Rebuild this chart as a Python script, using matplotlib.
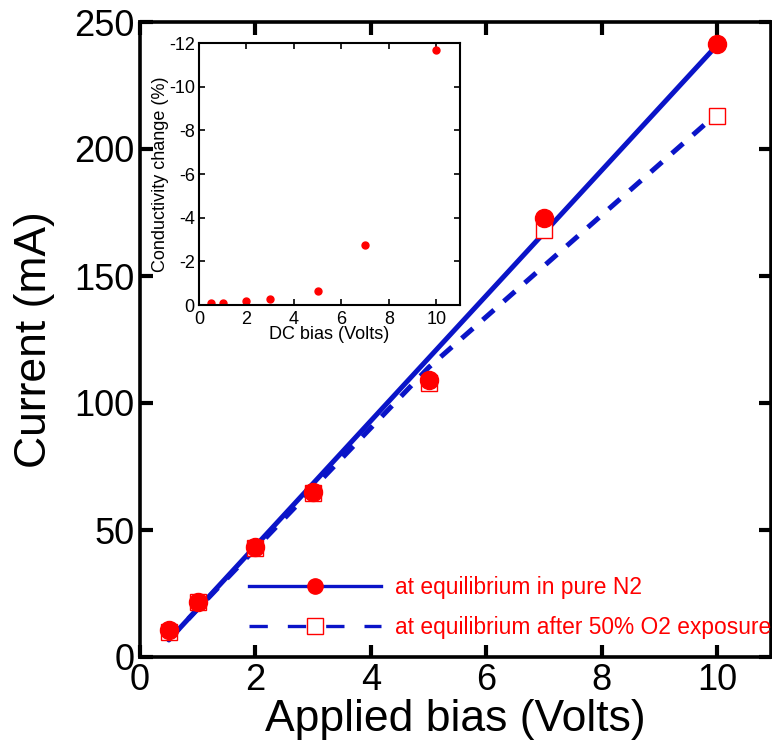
import matplotlib
matplotlib.use('Agg')
import matplotlib.pyplot as plt
from matplotlib.lines import Line2D

plt.rcParams['font.family'] = ['Liberation Sans', 'DejaVu Sans']
plt.rcParams['axes.unicode_minus'] = False

# main panel data
bias = [0.5, 1, 2, 3, 5, 7, 10]
current_n2 = [10.6, 21.6, 43.2, 65.0, 109.0, 172.8, 241.3]
current_o2 = [10.0, 21.6, 43.0, 64.5, 108.0, 168.0, 213.0]

# fitted lines
fit_x_n2 = [0.5, 10]
fit_y_n2 = [6.7, 241.0]
fit_x_o2 = [0.5, 5, 10]
fit_y_o2 = [7.0, 114.0, 214.0]

# inset data
dc_bias = [0.5, 1, 2, 3, 5, 7, 10]
cond_change = [-0.08, -0.07, -0.2, -0.27, -0.63, -2.75, -11.7]

blue = '#0a14c8'
red = '#ff0000'

fig = plt.figure(figsize=(7.72, 7.5), dpi=100)
ax = fig.add_axes([140 / 772, 1 - 657 / 750, 631 / 772, 635 / 750])

ax.plot(fit_x_n2, fit_y_n2, color=blue, lw=3.6, solid_capstyle='round')
ax.plot(fit_x_o2, fit_y_o2, color=blue, lw=3.6, ls=(0, (3, 2.6)))
ax.plot(bias, current_o2, ls='none', marker='s', ms=12, mfc='white',
        mec=red, mew=1.0)
ax.plot(bias, current_n2, ls='none', marker='o', ms=13, mfc=red, mec=red)

ax.set_xlim(0, 10.93)
ax.set_ylim(0, 250)
ax.set_xticks([0, 2, 4, 6, 8, 10])
ax.set_yticks([0, 50, 100, 150, 200, 250])
ax.tick_params(direction='in', length=9, width=3, labelsize=26,
               top=True, right=True, pad=4)
for s in ax.spines.values():
    s.set_linewidth(2.6)
ax.set_xlabel('Applied bias (Volts)', fontsize=32, labelpad=1)
ax.set_ylabel('Current (mA)', fontsize=32, labelpad=14)

h1 = Line2D([], [], color=blue, lw=2.4, marker='o', ms=11, mfc=red, mec=red)
h2 = Line2D([], [], color=blue, lw=2.4, ls=(0, (5.5, 6)), marker='s', ms=11,
            mfc='none', mec=red, mew=1.0)
leg = ax.legend([h1, h2], ['at equilibrium in pure N2',
                           'at equilibrium after 50% O2 exposure'],
                loc='upper left', bbox_to_anchor=(249 / 772, 1 - 576 / 750),
                bbox_transform=fig.transFigure, frameon=False, fontsize=16.4,
                handlelength=5.8, handletextpad=0.6, labelspacing=0.75,
                borderpad=0, borderaxespad=0, numpoints=1)
for t in leg.get_texts():
    t.set_color(red)

# inset
ins = fig.add_axes([199 / 772, 1 - 305 / 750, 261 / 772, 262 / 750])
ins.plot(dc_bias, cond_change, ls='none', marker='o', ms=5, mfc=red, mec=red)
ins.set_xlim(0, 11)
ins.set_ylim(0, -12)
ins.set_xticks([0, 2, 4, 6, 8, 10])
ins.set_yticks([0, -2, -4, -6, -8, -10, -12])
ins.tick_params(direction='in', length=4, width=1.2, labelsize=13,
                top=True, right=True)
ins.tick_params(axis='x', pad=4)
ins.tick_params(axis='y', pad=3)
for s in ins.spines.values():
    s.set_linewidth(1.5)
ins.set_xlabel('DC bias (Volts)', fontsize=13, labelpad=-1)
ins.set_ylabel('Conductivity change (%)', fontsize=13, labelpad=0)

fig.savefig('out.png', dpi=100)
